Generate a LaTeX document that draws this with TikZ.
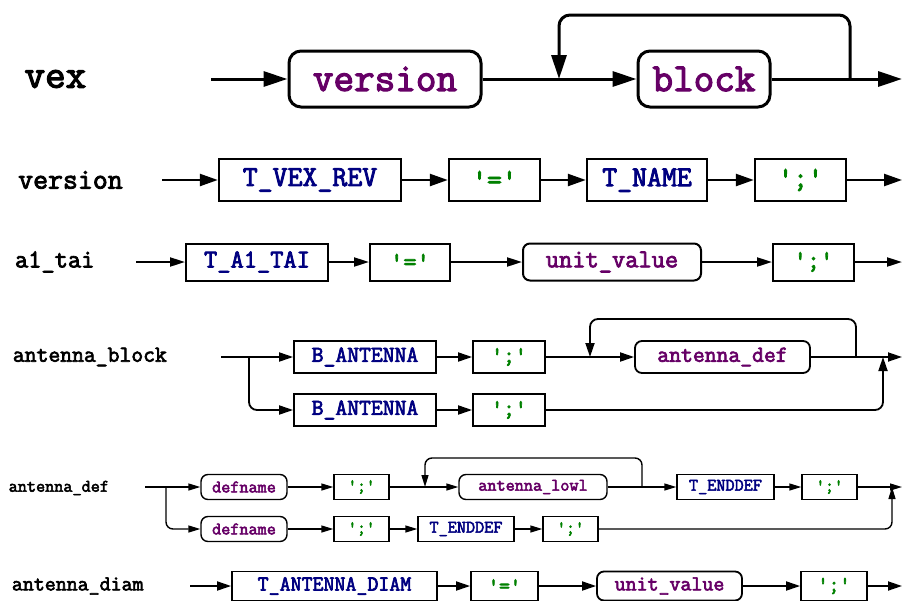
\documentclass[tikz,border=0pt]{standalone}
\usepackage{fontspec}
\usetikzlibrary{arrows.meta}
\newfontfamily\railfont{Latin Modern Mono}[FakeBold=3]
\definecolor{ntcol}{RGB}{102,0,102}
\definecolor{tokcol}{RGB}{0,0,128}
\definecolor{litcol}{RGB}{0,128,0}
\begin{document}
\begin{tikzpicture}[x=1pt,y=-1pt,
    rule/.style={anchor=west,inner sep=0pt},
    nt/.style={draw,rounded corners=#1,text=ntcol,inner sep=0pt},
    nt/.default=7,
    tok/.style={draw,text=tokcol,inner sep=0pt},
    lit/.style={draw,text=litcol,inner sep=0pt}]
  \useasboundingbox (0,0) rectangle (902,600);
  \clip (0,0) rectangle (902,600);

  % vex
  \begin{scope}[line width=3pt,>={Triangle[length=24pt,width=15pt]},
      every node/.append style={font=\fontsize{40}{40}\railfont\bfseries,minimum height=56}]
    \node[rule] at (23,79) (vex) {vex};
    \node[nt=12,minimum width=192] at (385,79) (version) {version};
    \node[nt=12,minimum width=132] at (704,79) (block) {block};
    \coordinate (s1) at (211,79);
    \coordinate (k1) at (559,79);
    \coordinate (j1) at (850,79);
    \coordinate (e1) at (902,79);
    \draw[->] (s1) -- (version);
    \draw[->] (version) -- (block);
    \draw[->] (block) -- (e1);
    \draw[->,rounded corners=11] (j1) -- (850,15) -| (k1);
  \end{scope}

  % version
  \begin{scope}[line width=2.4pt,>={Triangle[length=18pt,width=12pt]},
      every node/.append style={font=\fontsize{29}{29}\railfont,minimum height=42}]
    \node[rule] at (17,180) (lversion) {version};
    \node[tok,minimum width=182] at (310,180) (vexrev) {T\_VEX\_REV};
    \node[lit,minimum width=91] at (494.5,180) (eq2) {'='};
    \node[tok,minimum width=120] at (647,180) (tname) {T\_NAME};
    \node[lit,minimum width=91] at (800.5,180) (semi2) {';'};
    \coordinate (s2) at (162,180);
    \coordinate (e2) at (902,180);
    \draw[->] (s2) -- (vexrev);
    \draw[->] (vexrev) -- (eq2);
    \draw[->] (eq2) -- (tname);
    \draw[->] (tname) -- (semi2);
    \draw[->] (semi2) -- (e2);
  \end{scope}

  % a1_tai
  \begin{scope}[line width=2pt,>={Triangle[length=15pt,width=9pt]},
      every node/.append style={font=\fontsize{25.7}{26}\railfont,minimum height=37}]
    \node[rule] at (14,262) (la1tai) {a1\_tai};
    \node[tok,minimum width=142] at (257,262) (ta1tai) {T\_A1\_TAI};
    \node[lit,minimum width=80] at (410,262) (eq3) {'='};
    \node[nt,minimum width=178] at (612,262) (uval3) {unit\_value};
    \node[lit,minimum width=81] at (813.5,262) (semi3) {';'};
    \coordinate (s3) at (136,262);
    \coordinate (e3) at (902,262);
    \draw[->] (s3) -- (ta1tai);
    \draw[->] (ta1tai) -- (eq3);
    \draw[->] (eq3) -- (uval3);
    \draw[->] (uval3) -- (semi3);
    \draw[->] (semi3) -- (e3);
  \end{scope}

  % antenna_block
  \begin{scope}[line width=1.8pt,>={Triangle[length=14pt,width=9pt]},
      every node/.append style={font=\fontsize{23}{23}\railfont,minimum height=32}]
    \node[rule] at (12,357) (lablock) {antenna\_block};
    \node[tok,minimum width=142] at (365,357) (bant1) {B\_ANTENNA};
    \node[tok,minimum width=142] at (365,410) (bant2) {B\_ANTENNA};
    \node[lit,minimum width=72] at (509,357) (semi41) {';'};
    \node[lit,minimum width=72] at (509,410) (semi42) {';'};
    \node[nt,minimum width=175] at (722.5,357) (adef) {antenna\_def};
    \coordinate (s4) at (221,357);
    \coordinate (b4) at (249,357);
    \coordinate (k4) at (590,357);
    \coordinate (j4) at (856,357);
    \coordinate (m4) at (883,357);
    \coordinate (e4) at (902,357);
    \draw (s4) -- (b4);
    \draw[->] (b4) -- (bant1);
    \draw[->,rounded corners=8] (b4) |- (bant2);
    \draw[->] (bant1) -- (semi41);
    \draw[->] (bant2) -- (semi42);
    \draw[->] (semi41) -- (adef);
    \draw[->,rounded corners=8] (j4) -- (856,319) -| (k4);
    \draw[->] (adef) -- (e4);
    \draw[->,rounded corners=8] (semi42) -| (m4);
  \end{scope}

  % antenna_def
  \begin{scope}[line width=1.4pt,>={Triangle[length=12pt,width=7pt]},
      every node/.append style={font=\fontsize{17.7}{18}\railfont,minimum height=25}]
    \node[rule] at (8,488) (ladef) {antenna\_def};
    \node[nt,minimum width=86] at (244,487) (dname1) {defname};
    \node[nt,minimum width=86] at (244,529) (dname2) {defname};
    \node[lit,minimum width=55] at (361.5,487) (semi51) {';'};
    \node[lit,minimum width=55] at (361.5,529) (semi52) {';'};
    \node[nt,minimum width=148] at (533,487) (alowl) {antenna\_lowl};
    \node[tok,minimum width=97] at (725.5,487) (tend1) {T\_ENDDEF};
    \node[lit,minimum width=55] at (829.5,487) (semi53) {';'};
    \node[tok,minimum width=96] at (466,529) (tend2) {T\_ENDDEF};
    \node[lit,minimum width=55] at (570.5,529) (semi54) {';'};
    \coordinate (s5) at (145,487);
    \coordinate (b5) at (166,487);
    \coordinate (k5) at (425,487);
    \coordinate (j5) at (642,487);
    \coordinate (m5) at (892,487);
    \coordinate (e5) at (902,487);
    \draw (s5) -- (b5);
    \draw[->] (b5) -- (dname1);
    \draw[->,rounded corners=7] (b5) |- (dname2);
    \draw[->] (dname1) -- (semi51);
    \draw[->] (dname2) -- (semi52);
    \draw[->] (semi51) -- (alowl);
    \draw[->,rounded corners=7] (j5) -- (642,458) -| (k5);
    \draw[->] (alowl) -- (tend1);
    \draw[->] (tend1) -- (semi53);
    \draw[->] (semi53) -- (e5);
    \draw[->] (semi52) -- (tend2);
    \draw[->] (tend2) -- (semi54);
    \draw[->,rounded corners=7] (semi54) -| (m5);
  \end{scope}

  % antenna_diam
  \begin{scope}[line width=1.8pt,>={Triangle[length=14pt,width=9pt]},
      every node/.append style={font=\fontsize{21.3}{22}\railfont,minimum height=29}]
    \node[rule] at (11,586) (ladiam) {antenna\_diam};
    \node[tok,minimum width=205] at (334.5,586) (tdiam) {T\_ANTENNA\_DIAM};
    \node[lit,minimum width=67] at (504.5,586) (eq6) {'='};
    \node[nt,minimum width=145] at (669.5,586) (uval6) {unit\_value};
    \node[lit,minimum width=66] at (834,586) (semi6) {';'};
    \coordinate (s6) at (190,586);
    \coordinate (e6) at (902,586);
    \draw[->] (s6) -- (tdiam);
    \draw[->] (tdiam) -- (eq6);
    \draw[->] (eq6) -- (uval6);
    \draw[->] (uval6) -- (semi6);
    \draw[->] (semi6) -- (e6);
  \end{scope}
\end{tikzpicture}
\end{document}
